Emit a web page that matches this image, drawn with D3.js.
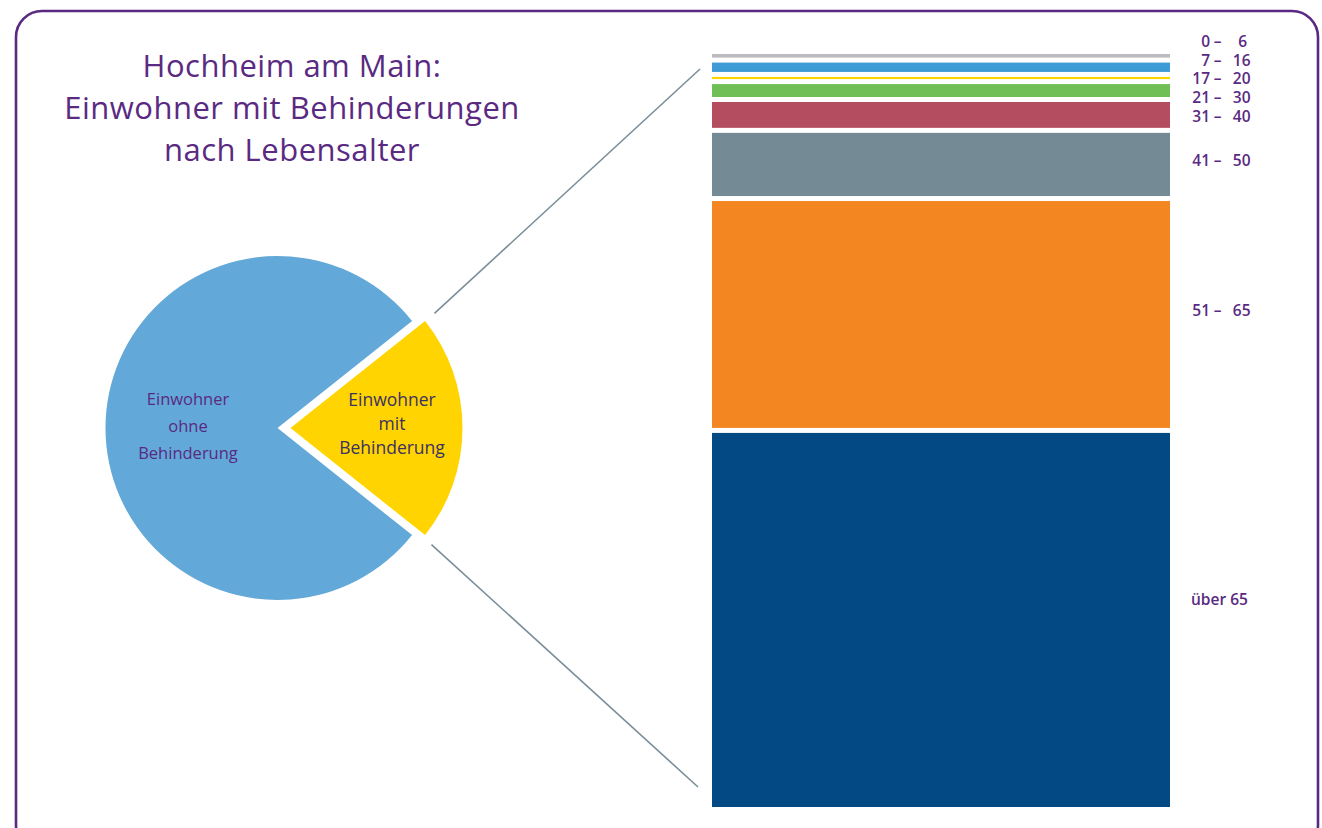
<!DOCTYPE html>
<html>
<head>
<meta charset="utf-8">
<script src="https://cdn.jsdelivr.net/npm/d3@7"></script>
<style>
	body { margin: 0; background: #fff; }
	svg { display: block; font-family: "Open Sans", "Noto Sans", sans-serif; }
</style>
</head>
<body>
<svg id="chart" width="1322" height="828"></svg>
<script>
const width = 1322,
	height = 828;

// Anteil an der Bevölkerung (Prozent)
const pieLabels = [["Einwohner", "mit", "Behinderung"], ["Einwohner", "ohne", "Behinderung"]];
const pieValues = [21.4, 78.6];

// Einwohner mit Behinderungen nach Alter (Prozent)
const ageGroups = [["0", "6"], ["7", "16"], ["17", "20"], ["21", "30"], ["31", "40"], ["41", "50"], ["51", "65"], ["über", "65"]];
const ageValues = [0.5, 1.3, 0.3, 1.8, 3.6, 8.8, 31.6, 52.1];

const titleLines = ["Hochheim am Main:", "Einwohner mit Behinderungen", "nach Lebensalter"];

const purple = "#5a2a82",
	pieColors = ["#ffd400", "#62a8d8"],
	barColors = ["#bcbcc0", "#3f9bd6", "#ffd500", "#6fbf56", "#b54d60", "#748a95", "#f38620", "#034a84"];

const svg = d3.select("#chart");

// Rahmen
svg.append("rect")
	.attr("x", 16)
	.attr("y", 11)
	.attr("width", 1302)
	.attr("height", 840)
	.attr("rx", 26)
	.attr("fill", "none")
	.attr("stroke", purple)
	.attr("stroke-width", 2.6);

// Titel
svg.append("text")
	.attr("x", 292)
	.attr("y", 77)
	.attr("text-anchor", "middle")
	.attr("fill", purple)
	.attr("font-size", 31)
	.attr("letter-spacing", 0.5)
	.selectAll("tspan")
	.data(titleLines)
	.join("tspan")
	.attr("x", 292)
	.attr("dy", (d, i) => i === 0 ? 0 : 41.8)
	.text(d => d);

// Kreisdiagramm
const cx = 277.5,
	cy = 428,
	radius = 172,
	explode = 13;

const yellowAngle = 2 * Math.PI * pieValues[0] / d3.sum(pieValues);

const pie = d3.pie()
	.sort(null)
	.startAngle(Math.PI / 2 - yellowAngle / 2)
	.endAngle(Math.PI / 2 - yellowAngle / 2 + 2 * Math.PI);

const arc = d3.arc()
	.innerRadius(0)
	.outerRadius(radius);

const slices = pie(pieValues);

const pieG = svg.append("g").attr("transform", `translate(${cx},${cy})`);

pieG.selectAll("path.slice")
	.data(slices)
	.join("path")
	.attr("class", "slice")
	.attr("fill", (d, i) => pieColors[i])
	.attr("transform", (d, i) => i === 0 ? `translate(${explode},0)` : null)
	.attr("d", arc);

const labelPos = [{x: 392, y: 406, size: 17.5, fill: "#3b3163", lh: 24}, {x: 188, y: 405, size: 16.5, fill: purple, lh: 27}];

pieG.selectAll("text.pielabel")
	.data(slices)
	.join("text")
	.attr("class", "pielabel")
	.attr("text-anchor", "middle")
	.attr("font-size", (d, i) => labelPos[i].size)
	.attr("fill", (d, i) => labelPos[i].fill)
	.each(function(d, i) {
		const p = labelPos[i];
		d3.select(this).selectAll("tspan")
			.data(pieLabels[i])
			.join("tspan")
			.attr("x", p.x - cx)
			.attr("y", (t, j) => p.y - cy + j * p.lh)
			.text(t => t);
	});

// Gestapelte Säule
const barX = 712,
	barW = 458,
	barTop = 54,
	barBottom = 807,
	gap = 5;

const yScale = d3.scaleLinear()
	.domain([0, d3.sum(ageValues)])
	.range([0, barBottom - barTop - gap * (ageValues.length - 1)]);

const cum = d3.cumsum(ageValues);
const bars = ageValues.map((v, i) => {
	const start = i === 0 ? 0 : cum[i - 1];
	const y0 = barTop + yScale(start) + i * gap;
	return {i, y0, h: yScale(v)};
});

svg.selectAll("rect.bar")
	.data(bars)
	.join("rect")
	.attr("class", "bar")
	.attr("x", barX)
	.attr("y", d => d.y0)
	.attr("width", barW)
	.attr("height", d => d.h)
	.attr("fill", d => barColors[d.i]);

// Beschriftung: kleine Gruppen gleichmäßig über der Gruppe 31 – 40 verteilt
const redMid = bars[4].y0 + bars[4].h / 2;
const labelY = bars.map(d => {
	if (d.i <= 4) return redMid + 2 - (4 - d.i) * 18.8;
	if (d.i === 7) return d.y0 + d.h / 2 - 20;
	return d.y0 + d.h / 2 - 3;
});

// alle Altersangaben in einem Textelement, Teile als einzelne Textblöcke
const labelParts = [];
ageGroups.forEach((d, i) => {
	const y = labelY[i] + 5;
	if (d[0] === "über") {
		labelParts.push({x: 1191, y, anchor: "start", t: d.join(" ")});
		return;
	}
	labelParts.push({x: 1210, y, anchor: "end", t: d[0]});
	labelParts.push({x: 1217.5, y, anchor: "middle", t: "–"});
	labelParts.push({x: d[1].length === 1 ? 1247 : 1250.5, y, anchor: "end", t: d[1]});
});

svg.append("text")
	.attr("class", "agelabels")
	.attr("fill", purple)
	.attr("font-size", 15.5)
	.attr("font-weight", 600)
	.selectAll("tspan")
	.data(labelParts)
	.join("tspan")
	.attr("x", d => d.x)
	.attr("y", d => d.y)
	.attr("text-anchor", d => d.anchor)
	.text(d => d.t);

// Verbindungslinien
const lineR = radius + 12;
const a0 = slices[0].startAngle,
	a1 = slices[0].endAngle;
const connectors = [
	{x1: cx + explode + lineR * Math.sin(a0), y1: cy - lineR * Math.cos(a0), x2: barX - 12, y2: barTop + 15},
	{x1: cx + explode + lineR * Math.sin(a1) - 3, y1: cy - lineR * Math.cos(a1) + 2, x2: barX - 14, y2: barBottom - 20}
];

svg.selectAll("line.connector")
	.data(connectors)
	.join("line")
	.attr("class", "connector")
	.attr("x1", d => d.x1)
	.attr("y1", d => d.y1)
	.attr("x2", d => d.x2)
	.attr("y2", d => d.y2)
	.attr("stroke", "#7a8e99")
	.attr("stroke-width", 1.6);
</script>
</body>
</html>
